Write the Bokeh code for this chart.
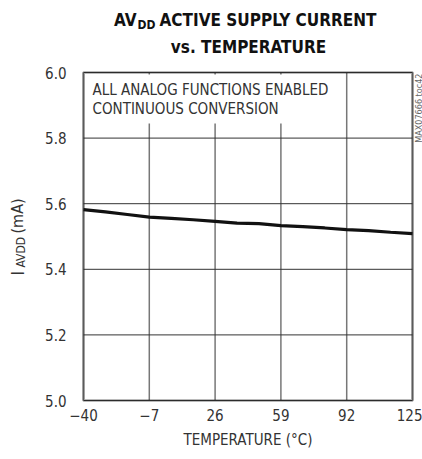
from bokeh.plotting import figure
from bokeh.models import Label, FixedTicker, BoxAnnotation, Range1d
from bokeh.embed import file_html
from bokeh.resources import INLINE

# ---- data ----
temperature = [-40, -29, -18, -7, 4, 15, 26, 37, 48, 59, 70, 81, 92, 103, 114, 125]
iavdd_ma = [5.582, 5.575, 5.567, 5.559, 5.555, 5.551, 5.546, 5.541, 5.539, 5.533,
            5.530, 5.526, 5.521, 5.518, 5.513, 5.509]
x_ticks = [-40, -7, 26, 59, 92, 125]
y_ticks = [5.0, 5.2, 5.4, 5.6, 5.8, 6.0]
y_tick_labels = {5.0: "5.0", 5.2: "5.2", 5.4: "5.4", 5.6: "5.6", 5.8: "5.8", 6.0: "6.0"}
x_lim = (-40, 125)
y_lim = (5.0, 6.0)

FONT = "'DejaVu Sans Condensed', Roboto, sans-serif"
W, H = 422, 459
# plot box in page pixels
FL, FR, FT, FB = 83, 412, 72, 400

def fx(px):
    return x_lim[0] + (px - FL) * (x_lim[1] - x_lim[0]) / (FR - FL)

def fy(py):
    return y_lim[1] - (py - FT) * (y_lim[1] - y_lim[0]) / (FB - FT)

p = figure(width=W, height=H, x_range=Range1d(fx(0), fx(W)), y_range=Range1d(fy(H), fy(0)),
           output_backend="svg", toolbar_location=None, min_border=0)
p.background_fill_color = "white"
p.border_fill_color = "white"
p.outline_line_color = None
p.grid.visible = False

for ax, loc in ((p.xaxis[0], y_lim[0]), (p.yaxis[0], x_lim[0])):
    ax.fixed_location = loc
    ax.axis_line_color = None
    ax.major_tick_line_color = None
    ax.minor_tick_line_color = None
    ax.major_tick_out = 0
    ax.major_tick_in = 0
    ax.major_label_text_font = FONT
    ax.major_label_text_font_size = "15px"
    ax.major_label_text_color = "#333333"

p.xaxis.ticker = FixedTicker(ticks=x_ticks)
p.yaxis.ticker = FixedTicker(ticks=y_ticks)
p.xaxis.bounds = x_lim
p.yaxis.bounds = y_lim
p.yaxis.major_label_overrides = y_tick_labels
p.xaxis.major_label_standoff = 8
p.yaxis.major_label_standoff = 17
p.xaxis.axis_label = "TEMPERATURE (°C)"
p.xaxis.axis_label_text_font = FONT
p.xaxis.axis_label_text_font_size = "15px"
p.xaxis.axis_label_text_font_style = "normal"
p.xaxis.axis_label_text_color = "#333333"
p.xaxis.axis_label_standoff = 7

# grid lines inside the plot box only
p.segment(x0=x_ticks, x1=x_ticks, y0=[y_lim[0]] * len(x_ticks), y1=[y_lim[1]] * len(x_ticks),
          line_color="#777777", line_width=1.5)
p.segment(x0=[x_lim[0]] * len(y_ticks), x1=[x_lim[1]] * len(y_ticks), y0=y_ticks, y1=y_ticks,
          line_color="#333333", line_width=1)

# white box behind the note
p.add_layout(BoxAnnotation(left=fx(85), right=fx(336), top=fy(74), bottom=fy(123),
                           fill_color="white", fill_alpha=1.0, line_color=None))

p.line(temperature, iavdd_ma, line_color="#111111", line_width=3.2)

# plot box outline
p.add_layout(BoxAnnotation(left=x_lim[0], right=x_lim[1], bottom=y_lim[0], top=y_lim[1],
                           fill_alpha=0, line_color="#1a1a1a", line_width=3))

def lab(px, py, text, size="15px", align="left", bold=False, color="#333333", angle=0):
    p.add_layout(Label(x=px, y=H - py, x_units="screen", y_units="screen",
                       text=text, text_font=FONT,
                       text_font_size=size, text_align=align, text_baseline="middle",
                       text_font_style="bold" if bold else "normal",
                       text_color=color, angle=angle, angle_units="deg"))

# title
lab(136, 19, "AV", size="17px", align="right", bold=True, color="#111111")
lab(137, 24, "DD", size="12px", align="left", bold=True, color="#111111")
lab(159, 19, "ACTIVE SUPPLY CURRENT", size="17px", align="left", bold=True, color="#111111")
lab(248, 46, "vs. TEMPERATURE", size="17px", align="center", bold=True, color="#111111")

# note
lab(92, 89, "ALL ANALOG FUNCTIONS ENABLED")
lab(92, 108, "CONTINUOUS CONVERSION")

# y axis label (rotated)
lab(17, 275, "I", size="17px", angle=90)
lab(20, 267, "AVDD", size="12px", angle=90)
lab(17, 233, "(mA)", size="16px", angle=90)

# side code
lab(418, 73, "MAX07666 toc42", size="9px", align="right", color="#666666", angle=90)

open("out.html", "w").write(file_html(p, INLINE))
